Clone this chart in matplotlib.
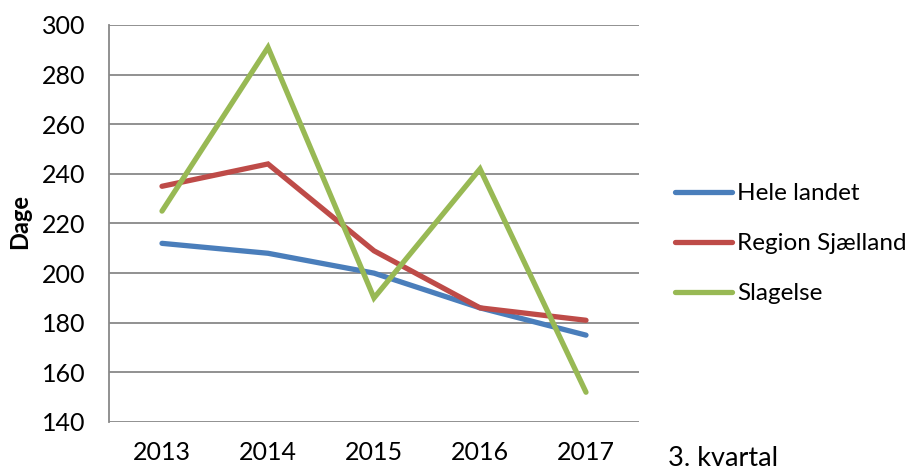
import matplotlib
matplotlib.use("Agg")
import matplotlib.pyplot as plt

years = ["2013", "2014", "2015", "2016", "2017"]
hele_landet = [212, 208, 200, 186, 175]
region_sjaelland = [235, 244, 209, 186, 181]
slagelse = [225, 291, 190, 242, 152]
series_names = ["Hele landet", "Region Sjælland", "Slagelse"]
y_ticks = [140, 160, 180, 200, 220, 240, 260, 280, 300]

plt.rcParams['font.family'] = ['Lato', 'DejaVu Sans']

fig = plt.figure(figsize=(9.12, 4.70), dpi=100)
ax = fig.add_axes([109/912, 1-422/470, (639-109)/912, (422-25)/470])

colors = ["#4A7EBB", "#BE4B48", "#98B954"]
x = list(range(len(years)))
for vals, name, c in zip([hele_landet, region_sjaelland, slagelse], series_names, colors):
    ax.plot(x, vals, color=c, lw=3.8, label=name, solid_capstyle='round', solid_joinstyle='miter', zorder=3)

ax.set_xlim(-0.5, len(years) - 0.5)
ax.set_ylim(140, 300)
ax.set_yticks(y_ticks)
ax.set_xticks(x)
ax.set_xticklabels(years)
ax.tick_params(axis='both', length=0, labelsize=18, colors='black')
ax.tick_params(axis='y', pad=17)
ax.tick_params(axis='x', pad=14)
ax.grid(axis='y', color='#888888', lw=1.3, zorder=1)
for s in ['top', 'right', 'bottom']:
    ax.spines[s].set_visible(False)
ax.spines['left'].set_color('#888888')
ax.spines['left'].set_linewidth(1.3)

fig.text(20/912, 1-221/470, "Dage", fontsize=17, fontweight='bold', rotation=90, va='center', ha='center')

fig.text(668/912, 1-458/470, "3. kvartal", fontsize=19.5, va='center', ha='left')

leg = ax.legend(loc='upper left', bbox_to_anchor=(675/912, 1-183/470), bbox_transform=fig.transFigure,
                frameon=False, fontsize=17.5, handlelength=2.35, handletextpad=0.2, labelspacing=1.2,
                borderaxespad=0, borderpad=0)

fig.savefig("out.png", dpi=100)
